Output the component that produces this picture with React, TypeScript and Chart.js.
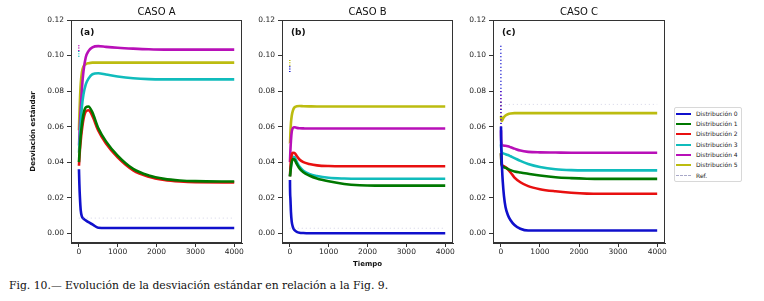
import React, { useEffect, useRef } from 'react';
import { Chart, registerables } from 'chart.js';

Chart.register(...registerables);

// ---------- data ----------
const times = [5, 15, 30, 50, 80, 120, 180, 250, 350, 500, 700, 1000, 1400, 1800, 2200, 2600, 3000, 4000];

const seriesLabels = ['Distribución 0', 'Distribución 1', 'Distribución 2', 'Distribución 3', 'Distribución 4', 'Distribución 5'];
const refLabel = 'Ref.';
const seriesColors = ['#1010cc', '#007800', '#e81010', '#10bcbc', '#b810b8', '#bcbc10'];
const refColor = 'rgba(160,160,200,0.45)';

const panelTitles = ['CASO A', 'CASO B', 'CASO C'];
const panelTags = ['(a)', '(b)', '(c)'];
const xTickValues = [0, 1000, 2000, 3000, 4000];
const yTickValues = [0, 0.02, 0.04, 0.06, 0.08, 0.1, 0.12];
const yAxisLabel = 'Desviación estándar';
const xAxisLabel = 'Tiempo';
const caption = 'Fig. 10.— Evolución de la desviación estándar en relación a la Fig. 9.';

// Caso A
const caseA0 = [0.036, 0.028, 0.020, 0.013, 0.0095, 0.0082, 0.0072, 0.0062, 0.0050, 0.0031, 0.0029, 0.0029, 0.0029, 0.0029, 0.0029, 0.0029, 0.0029, 0.0029];
const caseA1 = [0.040, 0.044, 0.049, 0.055, 0.061, 0.067, 0.0708, 0.0713, 0.0680, 0.0592, 0.0517, 0.0437, 0.0362, 0.0325, 0.0306, 0.0297, 0.0293, 0.0291];
const caseA2 = [0.038, 0.042, 0.047, 0.052, 0.058, 0.064, 0.0685, 0.0692, 0.0660, 0.0578, 0.0505, 0.0427, 0.0354, 0.0318, 0.0300, 0.0291, 0.0287, 0.0286];
const caseA3 = [0.045, 0.049, 0.055, 0.062, 0.071, 0.078, 0.0838, 0.0870, 0.0895, 0.0900, 0.0893, 0.0882, 0.0872, 0.0867, 0.0866, 0.0866, 0.0866, 0.0866];
const caseA4 = [0.049, 0.054, 0.062, 0.070, 0.081, 0.091, 0.0990, 0.1025, 0.1046, 0.1053, 0.1049, 0.1044, 0.1039, 0.1035, 0.1033, 0.1033, 0.1033, 0.1033];
const caseA5 = [0.058, 0.066, 0.075, 0.084, 0.0905, 0.0938, 0.0952, 0.0957, 0.0960, 0.0960, 0.0960, 0.0960, 0.0960, 0.0960, 0.0960, 0.0960, 0.0960, 0.0960];
const caseAStart = [null, null, null, 0.1025, 0.1058, null];
const caseARef = 0.0085;

// Caso B
const caseB0 = [0.030, 0.020, 0.012, 0.0065, 0.0035, 0.0018, 0.0008, 0.0003, 0.0001, 0.0, 0.0, 0.0, 0.0, 0.0, 0.0, 0.0, 0.0, 0.0];
const caseB1 = [0.032, 0.034, 0.037, 0.040, 0.0418, 0.0415, 0.0390, 0.0365, 0.0343, 0.0325, 0.0308, 0.0292, 0.0277, 0.0270, 0.0268, 0.0268, 0.0268, 0.0268];
const caseB2 = [0.032, 0.036, 0.041, 0.0440, 0.0453, 0.0452, 0.0435, 0.0415, 0.0400, 0.0390, 0.0382, 0.0378, 0.0377, 0.0377, 0.0377, 0.0377, 0.0377, 0.0377];
const caseB3 = [0.032, 0.035, 0.038, 0.041, 0.0430, 0.0428, 0.0402, 0.0375, 0.0352, 0.0334, 0.0322, 0.0312, 0.0308, 0.0307, 0.0307, 0.0307, 0.0307, 0.0307];
const caseB4 = [0.040, 0.046, 0.052, 0.057, 0.0592, 0.0596, 0.0593, 0.0591, 0.0590, 0.0589, 0.0589, 0.0589, 0.0589, 0.0589, 0.0589, 0.0589, 0.0589, 0.0589];
const caseB5 = [0.050, 0.056, 0.062, 0.066, 0.069, 0.0708, 0.0714, 0.0716, 0.0715, 0.0714, 0.0713, 0.0713, 0.0713, 0.0713, 0.0713, 0.0713, 0.0713, 0.0713];
const caseBStart = [0.094, null, null, null, null, 0.0975];
const caseBRef = 0.0028;

// Caso C
const caseC0 = [0.060, 0.046, 0.037, 0.029, 0.021, 0.0148, 0.0103, 0.0073, 0.0046, 0.0025, 0.0015, 0.0015, 0.0015, 0.0015, 0.0015, 0.0015, 0.0015, 0.0015];
const caseC1 = [0.045, 0.040, 0.0378, 0.0374, 0.0371, 0.0368, 0.0362, 0.0355, 0.0348, 0.0342, 0.0335, 0.0325, 0.0315, 0.0310, 0.0307, 0.0306, 0.0306, 0.0306];
const caseC2 = [0.045, 0.040, 0.0385, 0.0380, 0.0377, 0.0372, 0.0360, 0.0342, 0.0313, 0.0287, 0.0265, 0.0248, 0.0236, 0.0228, 0.0223, 0.0222, 0.0222, 0.0222];
const caseC3 = [0.050, 0.047, 0.0455, 0.0450, 0.0448, 0.0445, 0.0440, 0.0433, 0.0423, 0.0407, 0.0390, 0.0373, 0.0360, 0.0355, 0.0354, 0.0354, 0.0354, 0.0354];
const caseC4 = [0.058, 0.051, 0.0495, 0.0494, 0.0493, 0.0492, 0.0489, 0.0484, 0.0476, 0.0465, 0.0458, 0.0455, 0.0454, 0.0453, 0.0453, 0.0453, 0.0453, 0.0453];
const caseC5 = [0.066, 0.0635, 0.0632, 0.0642, 0.0654, 0.0663, 0.0670, 0.0674, 0.0676, 0.0676, 0.0676, 0.0676, 0.0676, 0.0676, 0.0676, 0.0676, 0.0676, 0.0676];
const caseCStart = [0.1055, null, null, null, 0.080, 0.074];
const caseCRef = 0.0725;

const FONT = '"DejaVu Sans", sans-serif';

type PanelSpec = {
  idx: number;
  left: number;
  width: number;
  height: number;
  yWidth: number;
  xHeight: number;
  padRight: number;
  series: number[][];
  starts: (number | null)[];
  ref: number;
  startDash: number[];
};

function Panel({ spec }: { spec: PanelSpec }) {
  const ref = useRef<HTMLCanvasElement>(null);
  useEffect(() => {
    const canvas = ref.current;
    if (!canvas) return;
    const datasets: any[] = spec.series.map((vals, i) => {
      const start = spec.starts[i];
      const pts = times.map((t, k) => ({ x: t, y: vals[k] }));
      if (start != null) pts.unshift({ x: 0, y: start });
      return {
        label: seriesLabels[i],
        data: pts,
        borderColor: seriesColors[i],
        backgroundColor: seriesColors[i],
        borderWidth: 2.6,
        pointRadius: 0,
        cubicInterpolationMode: 'monotone',
        borderCapStyle: 'butt',
        segment: {
          borderDash: (c: any) => (start != null && c.p0DataIndex === 0 ? spec.startDash : undefined),
          borderWidth: (c: any) => (start != null && c.p0DataIndex === 0 ? 1.5 : undefined),
        },
      };
    });
    datasets.unshift({
      label: refLabel,
      data: [{ x: 0, y: spec.ref }, { x: 4000, y: spec.ref }],
      borderColor: refColor,
      borderWidth: 1,
      borderDash: [1, 3],
      pointRadius: 0,
    });

    const framePlugin = {
      id: 'frameTag',
      afterDatasetsDraw(chart: any) {
        const { ctx, chartArea } = chart;
        ctx.save();
        ctx.strokeStyle = '#333';
        ctx.lineWidth = 1;
        ctx.strokeRect(
          Math.round(chartArea.left) + 0.5,
          Math.round(chartArea.top) + 0.5,
          Math.round(chartArea.right - chartArea.left) - 1,
          Math.round(chartArea.bottom - chartArea.top) - 1
        );
        ctx.fillStyle = '#111';
        ctx.font = `bold 9px ${FONT}`;
        ctx.textBaseline = 'middle';
        ctx.textAlign = 'left';
        ctx.fillText(panelTags[spec.idx], chartArea.left + 9, chartArea.top + 13);
        ctx.font = `10px ${FONT}`;
        ctx.textAlign = 'center';
        ctx.fillText(panelTitles[spec.idx], (chartArea.left + chartArea.right) / 2, 12);
        ctx.restore();
      },
    };

    const chart = new Chart(canvas, {
      type: 'line',
      data: { datasets },
      plugins: [framePlugin],
      options: {
        animation: false,
        responsive: false,
        maintainAspectRatio: false,
        layout: { padding: { left: 0, right: spec.padRight, top: 20, bottom: 0 } },
        plugins: {
          legend: { display: false },
          tooltip: { enabled: false },
          title: { display: false },
        },
        scales: {
          x: {
            type: 'linear',
            min: -200,
            max: 4200,
            afterBuildTicks: (s: any) => {
              s.ticks = xTickValues.map((v) => ({ value: v }));
            },
            afterFit: (s: any) => {
              s.height = spec.xHeight;
            },
            grid: { display: true, drawOnChartArea: false, drawTicks: true, tickLength: 4, tickColor: '#333' },
            border: { display: true, color: '#333' },
            ticks: {
              font: { family: FONT, size: 7.5 },
              color: '#222',
              padding: 1,
              maxRotation: 0,
              autoSkip: false,
              callback: (v: any) => String(v),
            },
            title: {
              display: spec.idx === 1,
              text: xAxisLabel,
              color: '#111',
              font: { family: FONT, size: 7, weight: 'bold' },
              padding: { top: 0, bottom: 7 },
            },
          },
          y: {
            type: 'linear',
            min: -0.0055,
            max: 0.12,
            afterBuildTicks: (s: any) => {
              s.ticks = yTickValues.map((v) => ({ value: v }));
            },
            afterFit: (s: any) => {
              s.width = spec.yWidth;
            },
            grid: { display: true, drawOnChartArea: false, drawTicks: true, tickLength: 4, tickColor: '#333' },
            border: { display: true, color: '#333' },
            ticks: {
              font: { family: FONT, size: 7.5 },
              color: '#222',
              padding: 3,
              autoSkip: false,
              callback: (v: any) => Number(v).toFixed(2),
            },
            title: {
              display: spec.idx === 0,
              text: yAxisLabel,
              color: '#111',
              font: { family: FONT, size: 7, weight: 'bold' },
              padding: { top: 29, bottom: 0 },
            },
          },
        },
      } as any,
    });
    return () => chart.destroy();
  }, [spec]);
  return (
    <canvas
      ref={ref}
      width={spec.width}
      height={spec.height}
      style={{ position: 'absolute', left: spec.left, top: 0, width: spec.width, height: spec.height }}
    />
  );
}

const panels: PanelSpec[] = [
  {
    idx: 0, left: 0, width: 250, height: 275, yWidth: 71, xHeight: 32, padRight: 8,
    series: [caseA0, caseA1, caseA2, caseA3, caseA4, caseA5], starts: caseAStart, ref: caseARef,
    startDash: [1, 1.5, 1, 1.5, 1, 400],
  },
  {
    idx: 1, left: 250, width: 210, height: 275, yWidth: 32, xHeight: 32, padRight: 7,
    series: [caseB0, caseB1, caseB2, caseB3, caseB4, caseB5], starts: caseBStart, ref: caseBRef,
    startDash: [1, 1.5, 1, 1.5, 1, 400],
  },
  {
    idx: 2, left: 460, width: 214, height: 275, yWidth: 33, xHeight: 32, padRight: 9,
    series: [caseC0, caseC1, caseC2, caseC3, caseC4, caseC5], starts: caseCStart, ref: caseCRef,
    startDash: [1, 2.5],
  },
];

function Legend() {
  const items = seriesLabels.map((l, i) => ({ label: l, color: seriesColors[i], dashed: false }));
  items.push({ label: refLabel, color: '#a8a8c8', dashed: true });
  return (
    <div
      style={{
        position: 'absolute', left: 674, top: 107, width: 68, height: 75,
        border: '1px solid #d8d8d8', borderRadius: 2, background: '#fff', boxSizing: 'border-box',
      }}
    >
      {items.map((it, i) => (
        <div
          key={i}
          style={{
            position: 'absolute', left: 0, top: 0.7 + i * 10.33, height: 10, display: 'flex',
            alignItems: 'center', whiteSpace: 'nowrap',
          }}
        >
          <div
            style={{
              width: 15, height: 0, marginLeft: 1,
              borderTop: it.dashed ? `1.5px dashed ${it.color}` : `2px solid ${it.color}`,
            }}
          />
          <span style={{ marginLeft: 5, font: `6px ${FONT}`, color: '#222', lineHeight: '10px' }}>{it.label}</span>
        </div>
      ))}
    </div>
  );
}

export default function App() {
  useEffect(() => {
    document.body.style.margin = '0';
    document.body.style.background = '#fff';
  }, []);
  return (
    <div style={{ position: 'relative', width: 764, height: 301, background: '#fff', overflow: 'hidden' }}>
      {panels.map((p) => (
        <Panel key={p.idx} spec={p} />
      ))}
      <Legend />
      <div
        style={{
          position: 'absolute', left: 9, top: 279, height: 13, lineHeight: '13px', whiteSpace: 'nowrap',
          font: '10.8px "DejaVu Serif", serif', color: '#111',
        }}
      >
        {caption}
      </div>
    </div>
  );
}
